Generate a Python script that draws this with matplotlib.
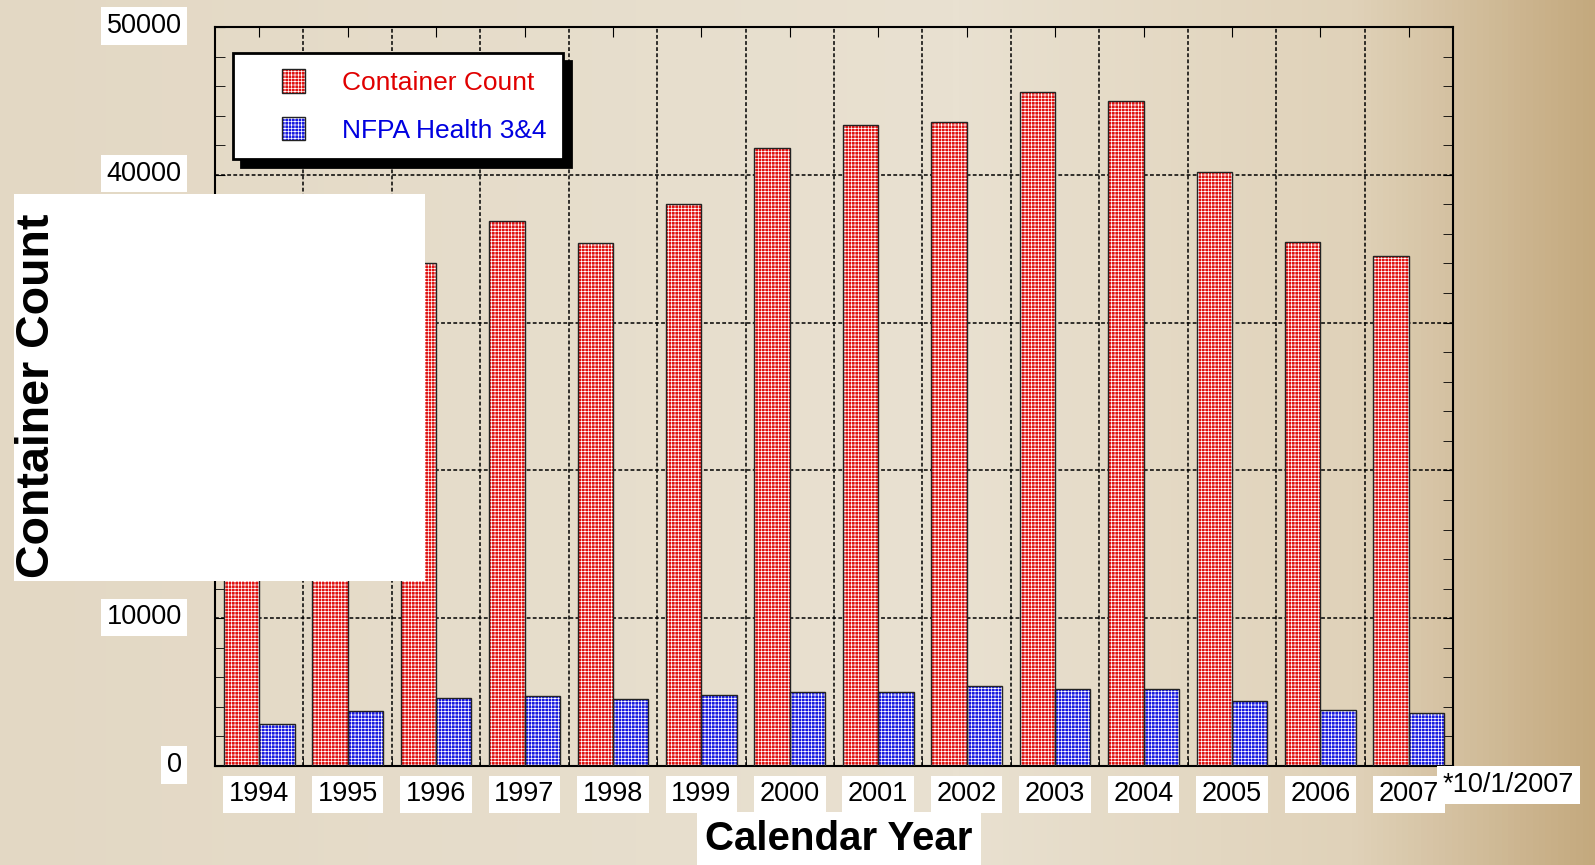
import numpy as np
import matplotlib.pyplot as plt
from matplotlib.patches import Rectangle, Patch
from matplotlib.colors import LinearSegmentedColormap
from matplotlib.ticker import MultipleLocator, FixedLocator
from matplotlib.transforms import ScaledTranslation
from matplotlib.legend_handler import HandlerTuple, HandlerPatch

plt.rcParams['font.family'] = ['Liberation Sans', 'DejaVu Sans']
plt.rcParams['hatch.linewidth'] = 0.5

years = ['1994', '1995', '1996', '1997', '1998', '1999', '2000',
         '2001', '2002', '2003', '2004', '2005', '2006', '2007']
container_count = [29500, 31800, 34000, 36900, 35400, 38000, 41800,
                   43400, 43600, 45600, 45000, 40200, 35450, 34500]
nfpa_health = [2820, 3740, 4620, 4740, 4550, 4820, 5030,
               4980, 5440, 5230, 5230, 4380, 3770, 3610]
y_ticks = [0, 10000, 20000, 30000, 40000, 50000]

W, H = 1595, 865
fig = plt.figure(figsize=(W / 100, H / 100), dpi=100)

# beige gradient background
bg = fig.add_axes([0, 0, 1, 1], zorder=-10)
bg_cmap = LinearSegmentedColormap.from_list(
    'bg', [(0, '#e3d8c4'), (0.6, '#e9e1d1'), (0.85, '#e0d2b9'), (1, '#c4a97e')])
bg.imshow(np.linspace(0, 1, 512)[None, :], aspect='auto', cmap=bg_cmap,
          extent=[0, 1, 0, 1])
bg.axis('off')

ax = fig.add_axes([215 / W, 1 - 766 / H, (1453 - 215) / W, (766 - 27) / H])
ax.patch.set_alpha(0)

red = '#e01010'
blue = '#1818e0'
x = np.arange(len(years))
ax.bar(x - 0.4, container_count, width=0.4, align='edge', color=red,
       edgecolor='white', hatch='+++++', linewidth=0, zorder=2)
ax.bar(x - 0.4, container_count, width=0.4, align='edge', fill=False,
       edgecolor='#222222', linewidth=1, zorder=3)
ax.bar(x, nfpa_health, width=0.4, align='edge', color=blue,
       edgecolor='white', hatch='+++++', linewidth=0, zorder=2)
ax.bar(x, nfpa_health, width=0.4, align='edge', fill=False,
       edgecolor='#222222', linewidth=1, zorder=3)

ax.set_xlim(-0.5, len(years) - 0.5)
ax.set_ylim(0, 50000)
ax.set_xticks(x)
ax.set_xticklabels(years)
ax.xaxis.set_minor_locator(FixedLocator(np.arange(0.5, len(years) - 1, 1)))
ax.set_yticks(y_ticks)
ax.set_yticklabels([str(v) for v in y_ticks])
ax.yaxis.set_minor_locator(MultipleLocator(2000))

ax.tick_params(axis='x', which='major', direction='in', top=True, bottom=False,
               length=7, labelsize=19.5, pad=11)
ax.tick_params(axis='x', which='minor', direction='in', top=False, bottom=True,
               length=6)
ax.tick_params(axis='y', which='both', direction='in', left=True, right=True,
               length=7, labelsize=19.5, pad=24)

grid_style = dict(color='black', linestyle=(0, (2.5, 1.5)), linewidth=1.1)
ax.grid(axis='y', which='major', **grid_style)
ax.grid(axis='x', which='minor', **grid_style)
for s in ax.spines.values():
    s.set_linewidth(1.5)

shift_up = ScaledTranslation(0, 4 / 100, fig.dpi_scale_trans)
for lbl in ax.get_yticklabels():
    lbl.set_transform(lbl.get_transform() + shift_up)
for lbl in ax.get_xticklabels() + ax.get_yticklabels():
    lbl.set_bbox(dict(facecolor='white', edgecolor='none', pad=4))

ax.set_xlabel('Calendar Year', fontsize=29, fontweight='bold',
              bbox=dict(facecolor='white', edgecolor='none', pad=6))
ax.xaxis.set_label_coords((839 - 215) / (1453 - 215), (766 - 839) / (766 - 27))
ax.xaxis.label.set_va('center')

fig.text(1443 / W, 1 - 785 / H, '*10/1/2007', ha='left', va='center',
         fontsize=19.5, bbox=dict(facecolor='white', edgecolor='none', pad=4))

# white block over the left part of the chart
fig.add_artist(Rectangle((14 / W, 1 - 581 / H), (425 - 14) / W, (581 - 194) / H,
                         transform=fig.transFigure, facecolor='white',
                         edgecolor='none', zorder=2))
fig.text(37 / W, 1 - 396 / H, 'Container Count', rotation=90, fontsize=33.5,
         fontweight='bold', ha='center', va='center', zorder=3)


def square(legend, orig_handle, xdescent, ydescent, width, height, fontsize):
    side = 0.87 * fontsize
    return Rectangle((-xdescent + 1.25 * fontsize, -ydescent), side, height)


red_h = Patch(facecolor=red, edgecolor='white', hatch='+++++', linewidth=0)
blue_h = Patch(facecolor=blue, edgecolor='white', hatch='+++++', linewidth=0)
edge_h = Patch(fill=False, edgecolor='#222222', linewidth=1)
leg = ax.legend([(red_h, edge_h), (blue_h, edge_h)],
                ['Container Count', 'NFPA Health 3&4'],
                handler_map={tuple: HandlerTuple(ndivide=1, pad=0),
                             Patch: HandlerPatch(patch_func=square)},
                loc='upper left', bbox_to_anchor=(233 / W, 1 - 53 / H),
                bbox_transform=fig.transFigure, borderaxespad=0,
                fontsize=19, handlelength=2.6, handleheight=1.0,
                handletextpad=0.9, borderpad=0.62, labelspacing=0.82,
                fancybox=False, edgecolor='black', framealpha=1,
                shadow={'ox': 6, 'oy': -6, 'color': 'black', 'alpha': 1})
leg.get_frame().set_linewidth(2)
for t, c in zip(leg.get_texts(), ['#e00000', '#0000e0']):
    t.set_color(c)

fig.savefig('out.png', dpi=100)
